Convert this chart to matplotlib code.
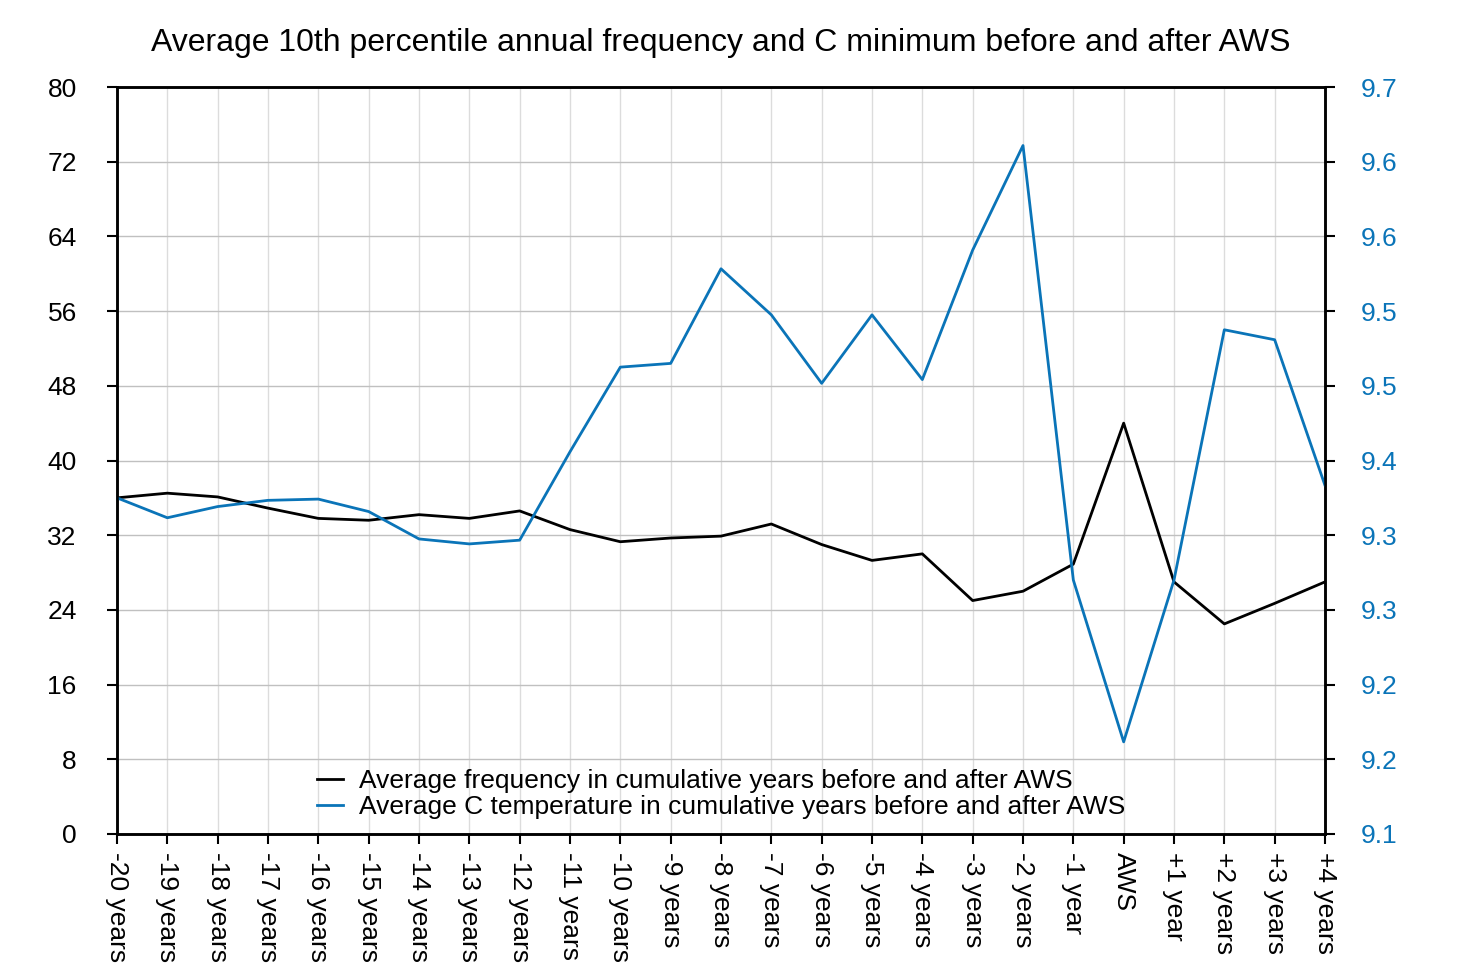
import matplotlib.pyplot as plt
from matplotlib.ticker import FormatStrFormatter, FixedLocator
import numpy as np

plt.rcParams['font.family'] = ['Liberation Sans', 'DejaVu Sans']

labels = ['-20 years', '-19 years', '-18 years', '-17 years', '-16 years', '-15 years',
          '-14 years', '-13 years', '-12 years', '-11 years', '-10 years', '-9 years',
          '-8 years', '-7 years', '-6 years', '-5 years', '-4 years', '-3 years',
          '-2 years', '-1 year', 'AWS', '+1 year', '+2 years', '+3 years', '+4 years']

frequency = [36.0, 36.5, 36.1, 34.9, 33.8, 33.6, 34.2, 33.8, 34.6, 32.6, 31.3, 31.7,
             31.9, 33.2, 31.0, 29.3, 30.0, 25.0, 26.0, 28.9, 44.0, 27.0, 22.5, 24.7, 27.0]

temperature = [9.370, 9.354, 9.363, 9.368, 9.369, 9.359, 9.337, 9.333, 9.336, 9.407,
               9.475, 9.478, 9.554, 9.517, 9.462, 9.517, 9.465, 9.569, 9.653, 9.304,
               9.174, 9.304, 9.505, 9.497, 9.380]

blue = '#0a74b8'
x = np.arange(len(labels))

fig = plt.figure(figsize=(14.57, 9.8), dpi=100)
ax = fig.add_axes([0.0803, 0.149, 0.8291, 0.7622])
ax2 = ax.twinx()

l1, = ax.plot(x, frequency, color='black', lw=2.0)
l2, = ax2.plot(x, temperature, color=blue, lw=2.0)

ax.set_xlim(0, len(labels) - 1)
ax.set_ylim(0, 80)
ax.set_yticks(np.arange(0, 81, 8))
ax2.set_ylim(9.1, 9.7)
ax2.yaxis.set_major_locator(FixedLocator(np.linspace(9.1, 9.7, 11)))
ax2.yaxis.set_major_formatter(FormatStrFormatter('%.1f'))

ax.set_xticks(x)
ax.set_xticklabels(labels, rotation=-90, fontsize=19)
ax.tick_params(axis='y', labelsize=19, length=7, width=1.5, pad=22)
ax.tick_params(axis='x', length=7, width=1.5, pad=6)
ax2.tick_params(axis='y', labelsize=19, length=7, width=1.5, pad=19, labelcolor=blue)

ax.grid(axis='y', color='#c0c0c0', lw=1)
ax.grid(axis='x', color='#dcdcdc', lw=1)
ax.set_axisbelow(True)

for a in (ax, ax2):
    for s in a.spines.values():
        s.set_linewidth(1.8)

ax.set_title('Average 10th percentile annual frequency and C minimum before and after AWS',
             fontsize=23, pad=26)

ax.legend([l1, l2],
          ['Average frequency in cumulative years before and after AWS',
           'Average C temperature in cumulative years before and after AWS'],
          loc='lower center', bbox_to_anchor=(0.5, 0.0), frameon=False, fontsize=19,
          handlelength=1.0, labelspacing=0.1, handletextpad=0.6, borderpad=0.05)

fig.savefig('out.png', dpi=100)
